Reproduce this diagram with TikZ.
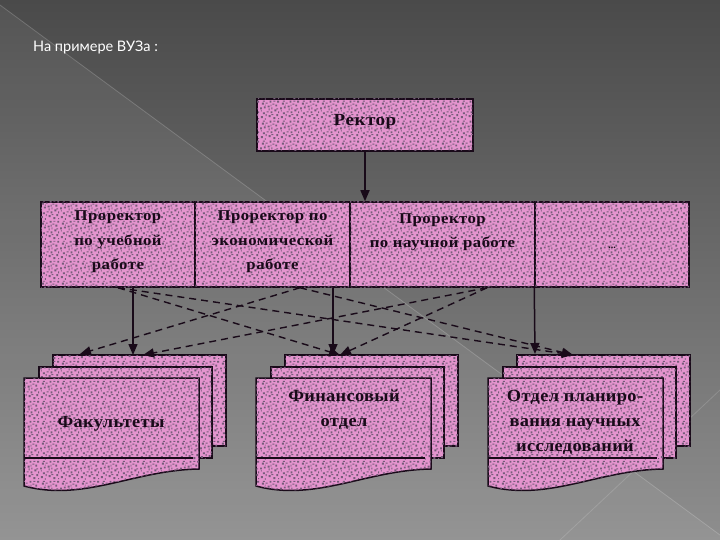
\documentclass[tikz,border=0pt]{standalone}
\usepackage{fontspec}
\setmainfont{Liberation Serif}
\newfontfamily\titlefont{Lato}
\newfontfamily\boxfont[LetterSpace=3,FakeStretch=1.12]{Liberation Serif}
\newfontfamily\bboxfont[LetterSpace=2,FakeStretch=1.08]{Liberation Serif}
\usetikzlibrary{arrows.meta,patterns}
\definecolor{pinkfill}{RGB}{228,148,206}
\definecolor{speck}{RGB}{118,92,122}
\definecolor{ink}{RGB}{25,10,25}
\definecolor{bgtop}{RGB}{74,74,74}
\definecolor{bgbot}{RGB}{142,142,142}
\pgfdeclarepatternformonly{speckle}{\pgfqpoint{0pt}{0pt}}{\pgfqpoint{20pt}{20pt}}{\pgfqpoint{20pt}{20pt}}{%
  \foreach \a/\b/\c/\d in {1/2/2/2,5/0/1/2,9/3/2/2,14/1/2/2,17/4/2/2,3/6/2/2,7/8/2/1,11/7/2/2,15/9/2/2,19/7/1/2,
                          0/11/2/2,4/12/2/2,8/13/2/2,12/11/1/2,16/14/2/2,2/16/2/2,6/17/2/1,10/18/2/2,13/16/2/1,18/18/2/2,
                          6/4/1/2,12/5/2/1,1/9/1/1,17/11/2/1,9/10/1/2,14/19/2/1,3/19/2/1,19/1/1/1,11/14/1/2,5/15/1/1}
    {\pgfpathrectangle{\pgfpoint{\a pt}{\b pt}}{\pgfpoint{\c pt}{\d pt}}}%
  \pgfusepath{fill}}
\newcommand\docsgroup[2]{%
  \path[sheet] (#1+29,355) rectangle (#1+202,446);
  \path[sheet] (#1+15,367) rectangle (#1+188,458);
  \path[sheet] (#1,378) -- (#1+175,378) -- (#1+175,469)
     .. controls (#1+110,470) and (#1+60,502) .. (#1,486) -- cycle;
  \draw[ink, line width=1.6pt] (#1,458) -- (#1+169,458);
  \node[inner sep=0pt, minimum width=175pt, minimum height=91pt, anchor=north west] (#2) at (#1,378) {};
}
\begin{document}
\begin{tikzpicture}[x=1pt,y=-1pt,
  cell/.style={draw=ink, line width=1.5pt, fill=pinkfill, inner sep=0pt, postaction={pattern=speckle, pattern color=speck}},
  sheet/.style={draw=ink, line width=1.5pt, fill=pinkfill, postaction={pattern=speckle, pattern color=speck}},
  lbl/.style={font=\boxfont\bfseries\fontsize{15}{24.5}\selectfont, text=ink, align=center, inner sep=0pt},
  blbl/.style={font=\bboxfont\bfseries\fontsize{17}{25}\selectfont, text=ink, align=center, inner sep=0pt},
  arr/.style={-{Triangle[width=9pt,length=11pt]}, line width=1.5pt, draw=ink},
  darr/.style={-{Triangle[width=9pt,length=11pt]}, line width=1.4pt, draw=ink, dash pattern=on 7pt off 5pt}]
\useasboundingbox (0,0) rectangle (720,540);
% background
\shade[top color=bgtop, bottom color=bgbot] (0,0) rectangle (720,540);
\fill[white, opacity=0.06] (0,5) -- (720,535) -- (720,540) -- (0,540) -- cycle;
\draw[white, opacity=0.18, line width=0.8pt] (0,5) -- (720,535);
\draw[white, opacity=0.15, line width=0.8pt] (720,390) -- (560,540);
% title
\node[anchor=west, text=white, font=\titlefont\fontsize{14.5}{16}\selectfont, inner sep=0pt] (title) at (33,48) {На примере ВУЗа :};
% rector
\node[cell, minimum width=216pt, minimum height=52pt] (rector) at (365,125) {};
\node[lbl, font=\boxfont\bfseries\fontsize{17}{20}\selectfont] (rectorlbl) at (365,122) {Ректор};
% prorectors row
\node[cell, minimum width=154pt, minimum height=85pt] (c1) at (118,244.5) {};
\node[cell, minimum width=155pt, minimum height=85pt] (c2) at (272.5,244.5) {};
\node[cell, minimum width=185pt, minimum height=85pt] (c3) at (442.5,244.5) {};
\node[cell, minimum width=154pt, minimum height=85pt] (c4) at (612,244.5) {};
\node[lbl] (l1) at (118,242) {Проректор\\по учебной\\работе};
\node[lbl] (l2) at (272.5,242) {Проректор по\\экономической\\работе};
\node[lbl] (l3) at (442.5,232) {Проректор\\по научной работе};
\node[lbl, font=\bfseries\fontsize{10}{12}\selectfont] (l4) at (612,248) {...};
% departments
\docsgroup{24}{fac}
\docsgroup{256}{fin}
\docsgroup{488}{plan}
\node[blbl] (facl) at (111,424) {Факультеты};
\node[blbl] (finl) at (344,410) {Финансовый\\отдел};
\node[blbl] (planl) at (575,422) {Отдел планиро-\\вания научных\\исследований};
\coordinate (fac-s) at (133,355);
\coordinate (fac-l) at (80,354);
\coordinate (fac-r) at (143,355);
\coordinate (fin-s) at (333,355);
\coordinate (fin-t) at (340,355);
\coordinate (plan-s) at (535,354);
\coordinate (plan-t) at (573,355);
% arrows
\draw[arr] (rector.south) -- (rector.south |- c3.north);
\draw[arr] ([xshift=15pt]c1.south) -- (fac-s);
\draw[arr] ([xshift=60.5pt]c2.south) -- (fin-s);
\draw[arr] (c4.south west) -- (plan-s);
\draw[darr] (c1.south) -- (fin-t);
\draw[darr] (c1.south) -- (plan-t);
\draw[darr] ([xshift=27.5pt]c2.south) -- (fac-l);
\draw[darr] ([xshift=27.5pt]c2.south) -- (plan-t);
\draw[darr] ([xshift=44.5pt]c3.south) -- (fac-r);
\draw[darr] ([xshift=44.5pt]c3.south) -- (fin-t);
\end{tikzpicture}
\end{document}
